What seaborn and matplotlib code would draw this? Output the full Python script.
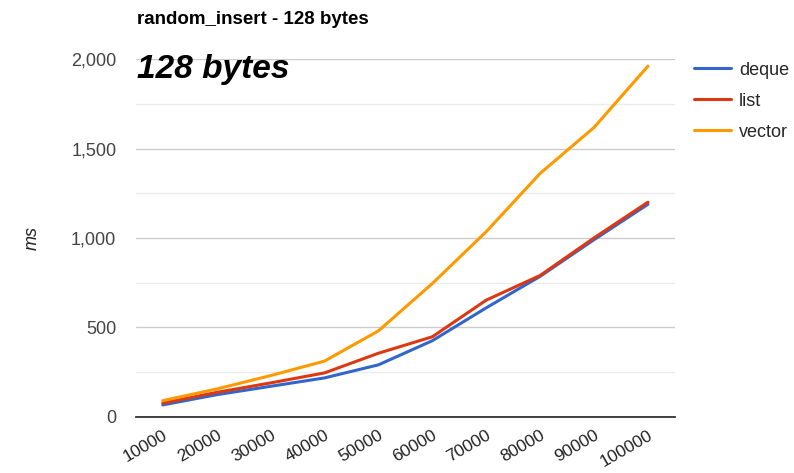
import matplotlib
matplotlib.use("Agg")
import matplotlib.pyplot as plt
from matplotlib.ticker import FixedLocator, FuncFormatter
import seaborn as sns
import pandas as pd

# Benchmark: random_insert with 128-byte elements, time in ms
sizes = ["10000", "20000", "30000", "40000", "50000",
         "60000", "70000", "80000", "90000", "100000"]
deque_ms = [66, 123, 170, 217, 290, 425, 609, 785, 990, 1188]
list_ms = [76, 136, 189, 245, 355, 447, 652, 790, 1000, 1200]
vector_ms = [90, 155, 230, 311, 480, 745, 1035, 1361, 1618, 1961]
series_names = ["deque", "list", "vector"]
series_colors = ["#3366CC", "#DC3912", "#FF9900"]

sns.set_style("white")
plt.rcParams["font.family"] = ["Liberation Sans", "DejaVu Sans"]

rows = []
for name, vals in zip(series_names, [deque_ms, list_ms, vector_ms]):
    for i, (s, v) in enumerate(zip(sizes, vals)):
        rows.append({"pos": i, "size": s, "ms": v, "series": name})
df = pd.DataFrame(rows)

fig = plt.figure(figsize=(7.94, 4.73), dpi=100)
ax = fig.add_axes([0.171, 0.119, 0.679, 0.756])

sns.lineplot(data=df, x="pos", y="ms", hue="series", hue_order=series_names,
             palette=series_colors, linewidth=2.2, ax=ax, legend=True,
             sort=True, estimator=None)

ax.set_xlim(-0.5, len(sizes) - 0.5)
ax.set_ylim(0, 2000)

# gridlines: major every 500, lighter ones in between
ax.yaxis.set_major_locator(FixedLocator([0, 500, 1000, 1500, 2000]))
ax.yaxis.set_minor_locator(FixedLocator([250, 750, 1250, 1750]))
ax.yaxis.set_major_formatter(FuncFormatter(lambda v, p: f"{int(v):,}"))
ax.grid(axis="y", which="major", color="#cccccc", linewidth=1.0)
ax.grid(axis="y", which="minor", color="#ebebeb", linewidth=1.0)
ax.grid(axis="x", visible=False)
ax.set_axisbelow(True)

for side in ["top", "right", "left"]:
    ax.spines[side].set_visible(False)
ax.spines["bottom"].set_color("#333333")
ax.spines["bottom"].set_linewidth(1.3)

ax.set_xticks(range(len(sizes)))
ax.set_xticklabels(sizes, rotation=30, ha="right", rotation_mode="anchor")
ax.tick_params(axis="x", length=0, pad=8, labelsize=12.5, labelcolor="#222222")
ax.tick_params(axis="y", which="both", length=0, pad=14, labelsize=13,
               labelcolor="#444444")

ax.set_xlabel("")
ax.set_ylabel("ms", fontsize=13, style="italic", color="#222222")
ax.yaxis.set_label_coords(-0.176, 0.5)

fig.text(0.173, 0.958, "random_insert - 128 bytes", fontsize=13.5,
         fontweight="bold", color="#000000", va="center", ha="left")
ax.text(0.002, 0.97, "128 bytes", transform=ax.transAxes, fontsize=24,
        fontweight="bold", style="italic", color="#000000",
        va="center", ha="left")

handles, labels = ax.get_legend_handles_labels()
ax.legend(handles, labels, loc="upper left", bbox_to_anchor=(0.865, 0.885),
          bbox_transform=fig.transFigure, frameon=False, fontsize=13,
          handlelength=2.05, handletextpad=0.45, labelspacing=0.78,
          borderaxespad=0)

fig.savefig("out.png", dpi=100)
